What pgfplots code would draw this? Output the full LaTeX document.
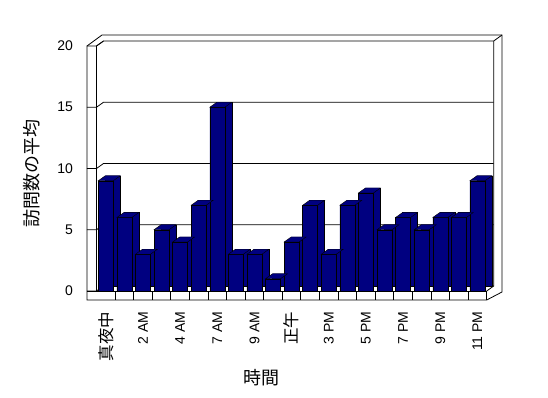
\documentclass[border=0pt]{standalone}
\usepackage{fontspec}
\setmainfont{Liberation Sans}
\newfontfamily\jp{Noto Sans CJK JP}
\usepackage{pgfplots}
\usepackage{pgfplotstable}
\pgfplotsset{compat=1.18}
\definecolor{navy}{RGB}{0,0,128}
\pgfdeclareplotmark{topface}{%
  \pgfpathmoveto{\pgfqpoint{-7.5pt}{0pt}}%
  \pgfpathlineto{\pgfqpoint{-0.5pt}{5pt}}%
  \pgfpathlineto{\pgfqpoint{14.5pt}{5pt}}%
  \pgfpathlineto{\pgfqpoint{7.5pt}{0pt}}%
  \pgfpathclose\pgfusepathqfillstroke}
\pgfplotstableread{
x y
0 9
1 6
2 3
3 5
4 4
5 7
6 15
7 3
8 3
9 1
10 4
11 7
12 3
13 7
14 8
15 5
16 6
17 5
18 6
19 6
20 9
}\data
\begin{document}
\begin{tikzpicture}[line width=0.8pt]
% bounding box of the whole picture
\path[use as bounding box] (-96.5pt,-107pt) rectangle (451.5pt,291pt);
% 3D frame: walls and floor
\draw (-9.5pt,-9pt) -- (-9.5pt,245pt) -- (5.5pt,256pt) -- (405.5pt,256pt) -- (405.5pt,-1pt) -- (390.2pt,-9pt) -- cycle;
\draw (0pt,0pt) -- (0pt,245pt) -- (7pt,250pt);
\draw (397.2pt,250pt) -- (405.5pt,256pt);
\draw (397.2pt,250pt) -- (397.2pt,5pt) -- (390.2pt,0pt);
\draw (-9.5pt,0pt) -- (390.2pt,0pt) -- (390.2pt,-9pt);
\foreach \v in {0,61.25,122.5,183.75,245}{
  \draw (-9.5pt,\v pt) -- (0pt,\v pt) -- (7pt,\v pt+5pt) -- (397.2pt,\v pt+5pt);
}
\foreach \k in {1,...,20}{
  \draw (\k*18.581pt,-9pt) -- (\k*18.581pt,0pt);
}
\begin{axis}[
  at={(0pt,0pt)}, anchor=south west,
  scale only axis, width=390.2pt, height=245pt,
  xmin=-0.5, xmax=20.5, ymin=0, ymax=20,
  clip=false,
  axis line style={draw=none},
  major tick style={draw=none},
  xtick={0,2,...,20},
  xticklabels={{\jp\fontsize{16.5}{18}\selectfont 真夜中},2 AM,4 AM,7 AM,9 AM,{\jp\fontsize{16.5}{18}\selectfont 正午},3 PM,5 PM,7 PM,9 PM,11 PM},
  ytick={0,5,...,20},
  /pgf/number format/assume math mode=true,
  yticklabel style={anchor=east, xshift=-20pt, font=\fontsize{14}{16}\selectfont},
  xticklabel style={rotate=90, anchor=east, xshift=-17pt, font=\fontsize{14}{16}\selectfont},
  xlabel={\jp 時間},
  ylabel={\jp 訪問数の平均},
  xlabel style={at={(axis description cs:0.423,0)}, anchor=center, yshift=-87pt, font=\fontsize{18}{20}\selectfont},
  ylabel style={at={(axis description cs:-0.1653,0.48)}, anchor=center, font=\fontsize{18}{20}\selectfont},
]
\addplot[ybar, bar width=15pt, bar shift=7pt, yshift=5pt, fill=navy, draw=black] table {\data};
\addplot[only marks, mark=topface, mark options={fill=navy, draw=black}] table {\data};
\addplot[ybar, bar width=15pt, bar shift=0pt, fill=navy, draw=black] table {\data};
\end{axis}
\end{tikzpicture}
\end{document}
